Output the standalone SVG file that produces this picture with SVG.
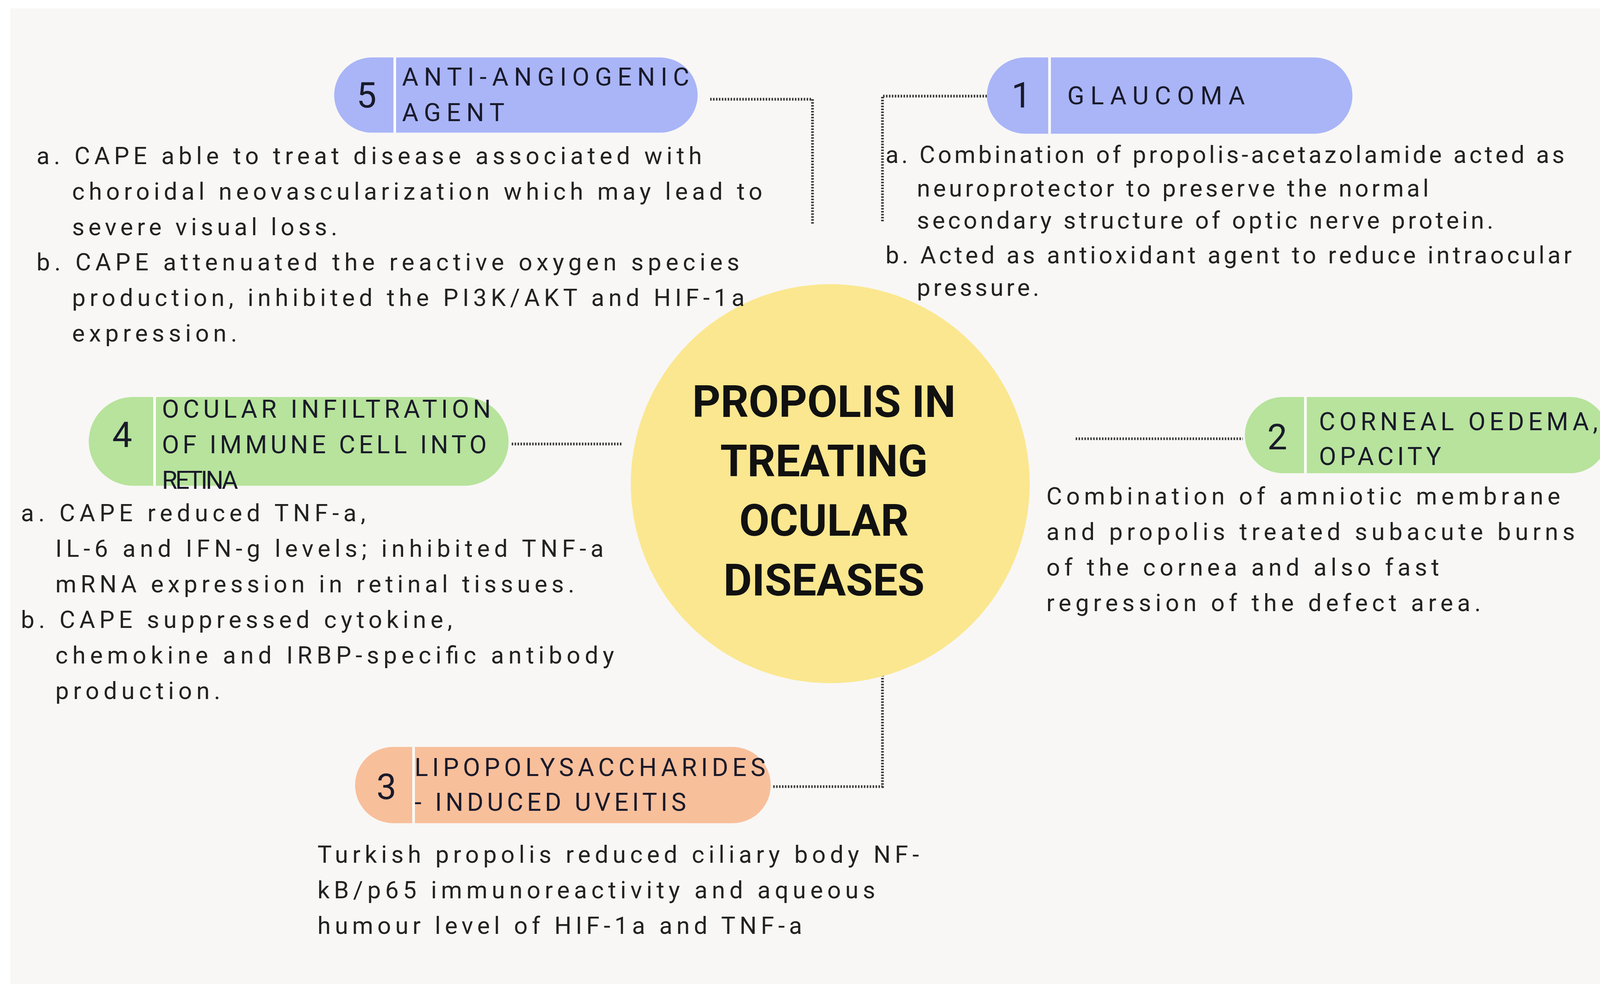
<svg xmlns="http://www.w3.org/2000/svg" width="4192" height="2549" viewBox="0 0 4192 2549">
<style>
.b{font-family:Roboto,"Liberation Sans",sans-serif;font-size:23px;fill:#222}
.h{font-family:Roboto,"Liberation Sans",sans-serif;font-size:24px;fill:#1a1a2a}
.n{font-family:Roboto,"Liberation Sans",sans-serif;font-size:34px;fill:#1a1a2a;text-anchor:middle}
.t{font-family:Roboto,"Liberation Sans",sans-serif;font-size:42px;font-weight:bold;fill:#111;text-anchor:middle}
.c{fill:none;stroke:#333;stroke-width:2.6;stroke-dasharray:1.4 1.4}
.d{stroke:#fff;stroke-width:2.5}
</style>
<rect width="4192" height="2549" fill="#fff"/>
<g transform="scale(2.6735)">
<rect x="10" y="8" width="1548" height="934" fill="#f8f7f5"/>
<g id="connectors">
<polyline class="c" points="680,95 778,95 778,215"/>
<polyline class="c" points="945,92 845,92 845,212"/>
<line class="c" x1="490" y1="425" x2="595" y2="425"/>
<line class="c" x1="1030" y1="420" x2="1190" y2="420"/>
<polyline class="c" points="845,635 845,753 740,753"/>
</g>
<g id="center">
<circle cx="795" cy="463" r="191" fill="#fbe78f"/>
<text class="t" x="789" y="399">PROPOLIS IN</text>
<text class="t" x="789" y="456">TREATING</text>
<text class="t" x="789" y="513">OCULAR</text>
<text class="t" x="789" y="570">DISEASES</text>
</g>
<g id="n5">
<rect x="320" y="55" width="348" height="72" rx="36" fill="#a9b5f7"/>
<line class="d" x1="378" y1="55" x2="378" y2="127"/>
<text class="n" x="351" y="103">5</text>
<text class="h" x="385" y="82" textLength="275" lengthAdjust="spacing">ANTI-ANGIOGENIC</text>
<text class="h" x="385" y="116" textLength="98" lengthAdjust="spacing">AGENT</text>
<text class="b" x="35" y="157" textLength="637" lengthAdjust="spacing">a. CAPE able to treat disease associated with</text>
<text class="b" x="69" y="191" textLength="661" lengthAdjust="spacing">choroidal neovascularization which may lead to</text>
<text class="b" x="69" y="225" textLength="254" lengthAdjust="spacing">severe visual loss.</text>
<text class="b" x="35" y="259" textLength="673" lengthAdjust="spacing">b. CAPE attenuated the reactive oxygen species</text>
<text class="b" x="69" y="293" textLength="644" lengthAdjust="spacing">production, inhibited the PI3K/AKT and HIF-1a</text>
<text class="b" x="69" y="327" textLength="158" lengthAdjust="spacing">expression.</text>
</g>
<g id="n1">
<rect x="945" y="55" width="350" height="73" rx="36.5" fill="#a9b5f7"/>
<line class="d" x1="1005" y1="55" x2="1005" y2="128"/>
<text class="n" x="978" y="103">1</text>
<text class="h" x="1022" y="100" textLength="170" lengthAdjust="spacing">GLAUCOMA</text>
<text class="b" x="848" y="156" textLength="650" lengthAdjust="spacing">a. Combination of propolis-acetazolamide acted as</text>
<text class="b" x="878" y="188" textLength="490" lengthAdjust="spacing">neuroprotector to preserve the normal</text>
<text class="b" x="878" y="219" textLength="552" lengthAdjust="spacing">secondary structure of optic nerve protein.</text>
<text class="b" x="848" y="252" textLength="657" lengthAdjust="spacing">b. Acted as antioxidant agent to reduce intraocular</text>
<text class="b" x="878" y="283" textLength="117" lengthAdjust="spacing">pressure.</text>
</g>
<g id="n2">
<rect x="1192" y="380" width="348" height="73" rx="36.5" fill="#b7e39c"/>
<line class="d" x1="1250" y1="380" x2="1250" y2="453"/>
<text class="n" x="1223" y="430">2</text>
<text class="h" x="1263" y="412" textLength="267" lengthAdjust="spacing">CORNEAL OEDEMA,</text>
<text class="h" x="1263" y="445" textLength="117" lengthAdjust="spacing">OPACITY</text>
<text class="b" x="1002" y="483" textLength="492" lengthAdjust="spacing">Combination of amniotic membrane</text>
<text class="b" x="1002" y="517" textLength="506" lengthAdjust="spacing">and propolis treated subacute burns</text>
<text class="b" x="1002" y="551" textLength="376" lengthAdjust="spacing">of the cornea and also fast</text>
<text class="b" x="1002" y="585" textLength="416" lengthAdjust="spacing">regression of the defect area.</text>
</g>
<g id="n4">
<rect x="85" y="380" width="402" height="85" rx="42.5" fill="#b7e39c"/>
<line class="d" x1="148" y1="380" x2="148" y2="465"/>
<text class="n" x="117" y="428">4</text>
<text class="h" x="155" y="400" textLength="315" lengthAdjust="spacing">OCULAR INFILTRATION</text>
<text class="h" x="155" y="434" textLength="311" lengthAdjust="spacing">OF IMMUNE CELL INTO</text>
<text class="h" x="155" y="468" textLength="73" lengthAdjust="spacing">RETINA</text>
<text class="b" x="20" y="499" textLength="330" lengthAdjust="spacing">a. CAPE reduced TNF-a,</text>
<text class="b" x="53" y="533" textLength="525" lengthAdjust="spacing">IL-6 and IFN-g levels; inhibited TNF-a</text>
<text class="b" x="53" y="567" textLength="497" lengthAdjust="spacing">mRNA expression in retinal tissues.</text>
<text class="b" x="20" y="601" textLength="413" lengthAdjust="spacing">b. CAPE suppressed cytokine,</text>
<text class="b" x="53" y="635" textLength="535" lengthAdjust="spacing">chemokine and IRBP-specific antibody</text>
<text class="b" x="53" y="669" textLength="158" lengthAdjust="spacing">production.</text>
</g>
<g id="n3">
<rect x="340" y="715" width="398" height="73" rx="36.5" fill="#f8bf9b"/>
<line class="d" x1="396" y1="715" x2="396" y2="788"/>
<text class="n" x="370" y="765">3</text>
<text class="h" x="397" y="743" textLength="336" lengthAdjust="spacing">LIPOPOLYSACCHARIDES</text>
<text class="h" x="397" y="776" textLength="260" lengthAdjust="spacing">- INDUCED UVEITIS</text>
<text class="b" x="304" y="826" textLength="576" lengthAdjust="spacing">Turkish propolis reduced ciliary body NF-</text>
<text class="b" x="304" y="860" textLength="534" lengthAdjust="spacing">kB/p65 immunoreactivity and aqueous</text>
<text class="b" x="304" y="894" textLength="464" lengthAdjust="spacing">humour level of HIF-1a and TNF-a</text>
</g>
</g>
</svg>
